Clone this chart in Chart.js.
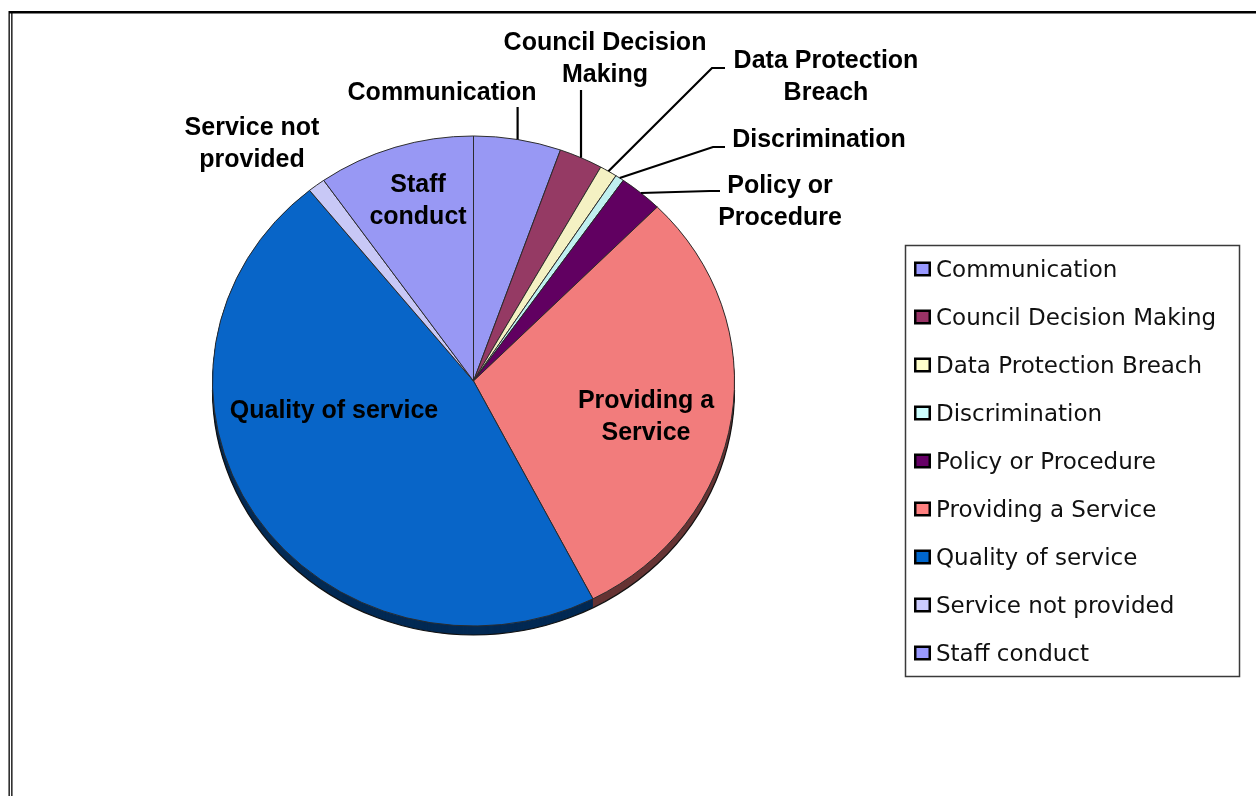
<!DOCTYPE html>
<html><head><meta charset="utf-8">
<script src="https://cdn.jsdelivr.net/npm/chart.js@4.4.1/dist/chart.umd.min.js"></script>
<style>html,body{margin:0;padding:0;background:#fff;overflow:hidden}#wrap{width:1256px;height:796px;position:relative}</style>
</head><body><div id="wrap"><canvas id="c" width="1256" height="796"></canvas></div>
<script>
// ---- data ----
const categories = ["Communication","Council Decision Making","Data Protection Breach","Discrimination","Policy or Procedure","Providing a Service","Quality of service","Service not provided","Staff conduct"];
const complaintCounts = [20, 10, 4, 2, 10, 111, 173, 4, 36];
const sliceLabelLines = [["Communication"],["Council Decision","Making"],["Data Protection","Breach"],["Discrimination"],["Policy or","Procedure"],["Providing a","Service"],["Quality of service"],["Service not","provided"],["Staff","conduct"]];

// ---- styles / layout ----
const sliceColors  = ["#9898F4","#953A64","#F4F1C3","#C0F0F0","#610061","#F27C7C","#0865C8","#C8C8F6","#9898F4"];
const legendColors = ["#9999FF","#993366","#FFFFCC","#CCFFFF","#660066","#FF8080","#0066CC","#CCCCFF","#9999FF"];
const SY = 245.5 / 261.5;   // vertical squash of the tilted pie
const DEPTH = 9;            // 3D edge thickness (px)
// text baseline of first line (x = centre), leader route
const labelPlacement = [
  {x:442, y:100, vertTo:107},
  {x:605, y:50,  vertTo:90},
  {x:826, y:68,  route:[[712,68],[725,68]]},
  {x:819, y:147, route:[[713,147],[725,147]]},
  {x:780, y:193, route:[[710,191],[720,191]]},
  {x:646, y:408},
  {x:334, y:418},
  {x:252, y:135},
  {x:418, y:192}
];
const LINE_H = 31.5;

function shade(hex, f){
  const n = parseInt(hex.slice(1),16);
  const r = Math.round(((n>>16)&255)*f), g = Math.round(((n>>8)&255)*f), b = Math.round((n&255)*f);
  return `rgb(${r},${g},${b})`;
}

const pie3d = {
  id:'pie3d',
  beforeDraw(chart){
    const ctx = chart.ctx;
    ctx.save();
    ctx.fillStyle = '#fff'; ctx.fillRect(0,0,chart.width,chart.height);
    ctx.fillStyle = '#000';
    ctx.fillRect(9, 11, chart.width-9, 2.5);
    ctx.fillRect(8.5, 11, 1.3, chart.height-11);
    ctx.fillRect(11.2, 11, 1.3, chart.height-11);
    ctx.restore();
  },
  beforeDatasetsDraw(chart){
    const meta = chart.getDatasetMeta(0);
    const a0 = meta.data[0];
    const cx = a0.x, cy = a0.y;
    const ctx = chart.ctx;
    ctx.save();
    ctx.translate(cx, cy); ctx.scale(1, SY); ctx.translate(-cx, -cy);
    for (let d = DEPTH; d > 0; d -= 0.5) {
      meta.data.forEach((arc, i) => {
        const oy = arc.y + d / SY;
        ctx.beginPath();
        ctx.moveTo(arc.x, oy);
        ctx.arc(arc.x, oy, arc.outerRadius, arc.startAngle, arc.endAngle);
        ctx.closePath();
        ctx.fillStyle = shade(sliceColors[i], 0.42);
        ctx.fill();
      });
    }
    ctx.beginPath();
    ctx.arc(cx, cy + DEPTH / SY, a0.outerRadius, 0, Math.PI);
    ctx.lineWidth = 1.2; ctx.strokeStyle = '#111'; ctx.stroke();
  },
  afterDatasetsDraw(chart){
    const ctx = chart.ctx;
    ctx.restore();
    const meta = chart.getDatasetMeta(0);
    ctx.save();
    ctx.font = 'bold 25px "Liberation Sans", Arial, sans-serif';
    ctx.fillStyle = '#000';
    ctx.textAlign = 'center';
    ctx.textBaseline = 'alphabetic';
    meta.data.forEach((arc, i) => {
      const p = labelPlacement[i];
      sliceLabelLines[i].forEach((t, k) => ctx.fillText(t, p.x, p.y + k * LINE_H));
      const mid = (arc.startAngle + arc.endAngle) / 2;
      const sx = arc.x + arc.outerRadius * Math.cos(mid);
      const sy = arc.y + arc.outerRadius * Math.sin(mid) * SY;
      if (p.vertTo !== undefined || p.route) {
        ctx.beginPath();
        ctx.moveTo(sx, sy);
        if (p.vertTo !== undefined) ctx.lineTo(sx, p.vertTo);
        else p.route.forEach(pt => ctx.lineTo(pt[0], pt[1]));
        ctx.lineWidth = 2.2; ctx.strokeStyle = '#000'; ctx.stroke();
      }
    });
    ctx.restore();
  },
  afterDraw(chart){
    const ctx = chart.ctx;
    ctx.save();
    ctx.lineWidth = 1.5; ctx.strokeStyle = '#3a3a3a';
    ctx.strokeRect(905.5, 245.5, 334, 431);
    ctx.font = '23px "DejaVu Sans", sans-serif';
    ctx.textAlign = 'left'; ctx.textBaseline = 'alphabetic';
    chart.data.labels.forEach((lab, i) => {
      const yc = 269 + 48 * i;
      ctx.fillStyle = '#000';
      ctx.fillRect(914, yc - 7.5, 17, 15);
      ctx.fillStyle = legendColors[i];
      ctx.fillRect(916.5, yc - 5, 12, 10);
      ctx.fillStyle = '#111';
      ctx.fillText(lab, 936, yc + 8.3);
    });
    ctx.restore();
  }
};

new Chart(document.getElementById('c'), {
  type: 'pie',
  data: {
    labels: categories,
    datasets: [{
      data: complaintCounts,
      backgroundColor: sliceColors,
      borderColor: '#2a2a2a',
      borderWidth: 1,
      clip: false
    }]
  },
  options: {
    responsive: false,
    animation: false,
    events: [],
    layout: { padding: { left: 212, right: 521, top: 119.5, bottom: 153.5 } },
    plugins: { legend: { display: false }, tooltip: { enabled: false }, title: { display: false } }
  },
  plugins: [pie3d]
});
</script>
</body></html>
